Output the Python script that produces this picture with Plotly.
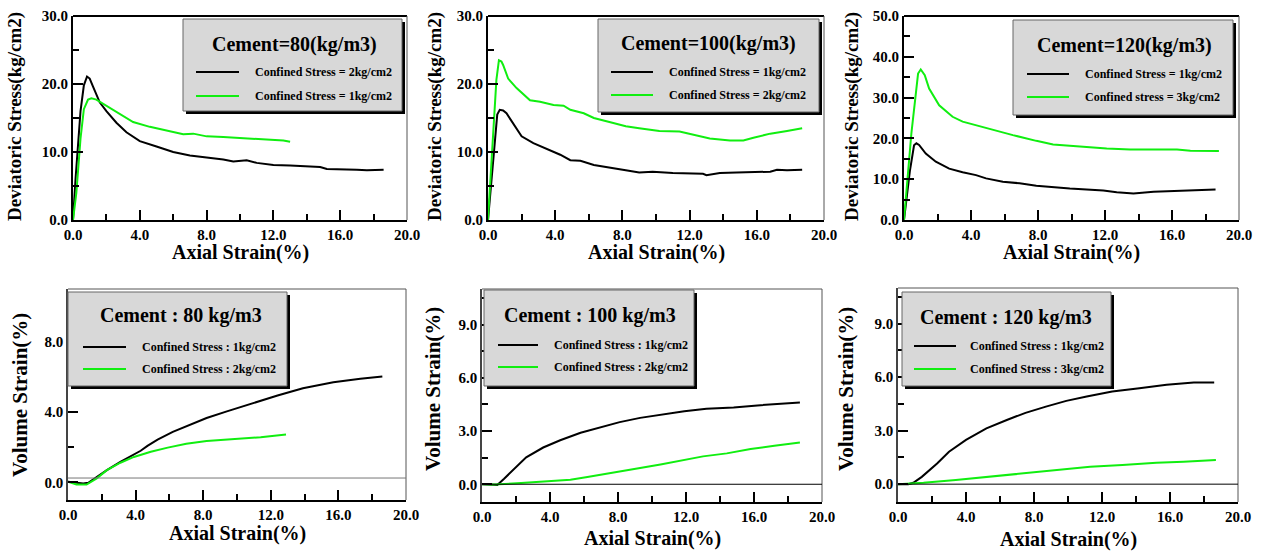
import plotly.graph_objects as go

W, H = 1261, 552

# ---------------- data ----------------
# Deviatoric stress vs axial strain
dev80_black_x = [0, 0.15, 0.45, 0.65, 0.84, 1.0, 1.2, 1.6, 2.0, 2.6, 3.2, 4.0, 5.0, 6.0, 7.0, 8.0, 9.0, 9.6, 10.4, 11.0, 12.0, 13.0, 14.0, 14.8, 15.2, 16.0, 17.0, 17.6, 18.6]
dev80_black_y = [0, 6, 16, 19.8, 21.1, 20.8, 19.6, 17.3, 16.0, 14.3, 12.9, 11.6, 10.8, 10.0, 9.5, 9.2, 8.9, 8.6, 8.8, 8.4, 8.1, 8.0, 7.9, 7.8, 7.5, 7.5, 7.4, 7.3, 7.4]
dev80_green_x = [0, 0.2, 0.45, 0.65, 0.9, 1.1, 1.4, 1.8, 2.6, 3.6, 4.6, 5.6, 6.6, 7.2, 8.0, 9.0, 9.6, 10.6, 11.4, 12.0, 12.6, 13.0]
dev80_green_y = [0, 4, 12, 16.3, 17.7, 17.9, 17.7, 17.1, 15.9, 14.4, 13.7, 13.2, 12.6, 12.7, 12.3, 12.2, 12.1, 12.0, 11.9, 11.8, 11.7, 11.5]

dev100_black_x = [0, 0.3, 0.55, 0.7, 0.9, 1.1, 1.6, 2.0, 2.7, 3.5, 4.3, 4.9, 5.5, 6.3, 7.4, 8.2, 9.0, 9.8, 11.0, 12.0, 12.8, 13.0, 13.8, 14.8, 15.8, 16.8, 17.2, 17.8, 18.7]
dev100_black_y = [0, 9, 15.5, 16.2, 16.1, 15.7, 13.7, 12.3, 11.3, 10.5, 9.6, 8.8, 8.7, 8.1, 7.6, 7.3, 7.0, 7.1, 6.9, 6.9, 6.8, 6.6, 6.9, 7.0, 7.1, 7.1, 7.4, 7.3, 7.4]
dev100_green_x = [0, 0.3, 0.5, 0.65, 0.8, 0.9, 1.2, 1.7, 2.3, 2.5, 3.1, 3.9, 4.5, 4.9, 5.7, 6.3, 7.4, 8.2, 9.0, 10.2, 11.4, 12.4, 13.2, 14.4, 15.2, 15.8, 16.8, 17.8, 18.7]
dev100_green_y = [0, 12, 20.6, 23.5, 23.3, 22.8, 20.8, 19.4, 18.1, 17.6, 17.4, 16.9, 16.8, 16.2, 15.7, 15.0, 14.3, 13.8, 13.5, 13.1, 13.0, 12.5, 12.0, 11.7, 11.7, 12.1, 12.7, 13.1, 13.5]

dev120_black_x = [0, 0.35, 0.6, 0.74, 0.9, 1.3, 1.9, 2.7, 3.5, 4.3, 4.9, 5.9, 6.9, 7.9, 9.9, 11.9, 12.7, 13.7, 14.9, 16.5, 18.6]
dev120_black_y = [0, 12, 18.3, 18.8, 18.4, 16.3, 14.3, 12.6, 11.7, 11.0, 10.2, 9.4, 9.0, 8.4, 7.7, 7.2, 6.8, 6.5, 6.9, 7.2, 7.5]
dev120_green_x = [0, 0.44, 0.84, 1.0, 1.24, 1.5, 2.1, 2.9, 3.5, 4.3, 5.3, 6.5, 7.9, 8.9, 9.9, 10.7, 12.1, 13.5, 15.3, 16.3, 17.1, 18.8]
dev120_green_y = [0, 21.2, 35.9, 36.9, 35.5, 32.2, 28.1, 25.3, 24.1, 23.2, 22.0, 20.8, 19.4, 18.5, 18.2, 17.9, 17.5, 17.3, 17.3, 17.3, 17.0, 16.9]

# Volume strain vs axial strain
vol80_black_x = [0, 0.5, 0.9, 1.2, 1.7, 2.3, 3.1, 3.9, 4.3, 4.7, 5.3, 6.2, 7.2, 8.2, 9.4, 10.8, 12.4, 13.9, 15.7, 17.3, 18.6]
vol80_black_y = [0.04, 0.0, -0.06, -0.02, 0.32, 0.7, 1.17, 1.6, 1.8, 2.08, 2.43, 2.87, 3.25, 3.66, 4.04, 4.47, 4.94, 5.36, 5.7, 5.89, 6.02]
vol80_green_x = [0, 0.5, 1.1, 1.7, 2.3, 3.1, 3.9, 4.9, 5.9, 7.0, 8.2, 9.8, 11.4, 12.9]
vol80_green_y = [0.04, -0.12, -0.12, 0.23, 0.7, 1.12, 1.45, 1.74, 1.98, 2.2, 2.36, 2.45, 2.57, 2.72]

vol100_black_x = [0, 0.9, 1.3, 1.9, 2.6, 3.6, 4.6, 5.8, 7.0, 8.1, 9.3, 10.5, 11.9, 13.2, 14.8, 16.2, 18.7]
vol100_black_y = [0, -0.04, 0.31, 0.87, 1.52, 2.07, 2.48, 2.9, 3.22, 3.5, 3.74, 3.93, 4.11, 4.26, 4.33, 4.44, 4.61]
vol100_green_x = [0, 0.7, 2.3, 3.8, 5.2, 6.2, 7.4, 8.5, 9.3, 10.5, 11.7, 13.0, 14.4, 15.8, 17.2, 18.7]
vol100_green_y = [0, -0.02, 0.07, 0.17, 0.26, 0.41, 0.59, 0.78, 0.91, 1.11, 1.33, 1.57, 1.74, 1.98, 2.17, 2.35]

vol120_black_x = [0, 0.6, 0.9, 1.4, 2.3, 3.0, 4.0, 5.2, 6.4, 7.5, 8.7, 9.9, 11.1, 12.6, 14.2, 15.8, 17.4, 18.6]
vol120_black_y = [0, 0, 0.08, 0.41, 1.16, 1.82, 2.48, 3.13, 3.6, 4.0, 4.35, 4.67, 4.92, 5.2, 5.38, 5.57, 5.7, 5.7]
vol120_green_x = [0, 1.5, 3.4, 5.4, 7.4, 9.3, 11.3, 13.2, 15.2, 16.8, 18.7]
vol120_green_y = [0, 0.08, 0.23, 0.41, 0.6, 0.79, 0.98, 1.07, 1.2, 1.26, 1.35]

legend_titles = ["Cement=80(kg/m3)", "Cement=100(kg/m3)", "Cement=120(kg/m3)",
                 "Cement : 80 kg/m3", "Cement : 100 kg/m3", "Cement : 120 kg/m3"]
black_labels = ["Confined Stress = 2kg/cm2", "Confined Stress = 1kg/cm2", "Confined Stress = 1kg/cm2",
                "Confined Stress : 1kg/cm2", "Confined Stress : 1kg/cm2", "Confined Stress : 1kg/cm2"]
green_labels = ["Confined Stress = 1kg/cm2", "Confined Stress = 2kg/cm2", "Confined stress = 3kg/cm2",
                "Confined Stress : 2kg/cm2", "Confined Stress : 2kg/cm2", "Confined Stress : 3kg/cm2"]
x_title = "Axial Strain(%)"
y_titles = ["Deviatoric Stress(kg/cm2)"] * 3 + ["Volume Strain(%)"] * 3

series = [
    (dev80_black_x, dev80_black_y, dev80_green_x, dev80_green_y),
    (dev100_black_x, dev100_black_y, dev100_green_x, dev100_green_y),
    (dev120_black_x, dev120_black_y, dev120_green_x, dev120_green_y),
    (vol80_black_x, vol80_black_y, vol80_green_x, vol80_green_y),
    (vol100_black_x, vol100_black_y, vol100_green_x, vol100_green_y),
    (vol120_black_x, vol120_black_y, vol120_green_x, vol120_green_y),
]

# ---------------- layout (pixel geometry) ----------------
FONT = "Liberation Serif"
GREEN = "#10ee10"

panels = [
    dict(box=(73, 16, 407, 220), yr=[0, 30], yd=10, ym=5, ref=None, tfs=15,
         leg=(183, 19, 402, 111), tc=(294, 44), l1=(196, 239, 72, 96), tx=253,
         xt=(240, 252), yt=(15, 117)),
    dict(box=(488, 16, 824, 220), yr=[0, 30], yd=10, ym=5, ref=None, tfs=15,
         leg=(598, 19, 819, 112), tc=(708, 43), l1=(611, 653, 72, 95), tx=667,
         xt=(656, 252), yt=(435, 117)),
    dict(box=(904, 16, 1239, 220), yr=[0, 50], yd=10, ym=5, ref=None, tfs=15,
         leg=(1013, 20, 1233, 115), tc=(1124, 45), l1=(1027, 1069, 74, 97), tx=1083,
         xt=(1071, 252), yt=(852, 117)),
    dict(box=(68, 289, 406, 500), yr=[-1, 11], yd=4, ym=2, ref=(0.25, "#777777"), tfs=15,
         leg=(68, 292, 287, 386), tc=(181, 315), l1=(83, 126, 347, 369), tx=140,
         xt=(237, 533), yt=(20, 395)),
    dict(box=(482, 289, 822, 502), yr=[-1, 11], yd=3, ym=1.5, ref=(0.0, "#000000"), tfs=15,
         leg=(484, 290, 694, 386), tc=(590, 315), l1=(498, 538, 345, 367), tx=552,
         xt=(652, 538), yt=(433, 389)),
    dict(box=(898, 288, 1238, 502), yr=[-1, 11], yd=3, ym=1.5, ref=(0.0, "#000000"), tfs=15,
         leg=(902, 292, 1111, 386), tc=(1006, 317), l1=(914, 956, 346, 369), tx=968,
         xt=(1068, 539), yt=(846, 389)),
]


def px(x):
    return x / W


def py(y):
    return 1 - y / H


fig = go.Figure()
shapes = []
annotations = []
layout = dict(width=W, height=H, margin=dict(l=0, r=0, t=0, b=0, pad=0, autoexpand=False),
              template="none", paper_bgcolor="white", plot_bgcolor="white", showlegend=False)

for i, (p, (bx, by, gx, gy)) in enumerate(zip(panels, series)):
    n = "" if i == 0 else str(i + 1)
    xa, ya = "x" + n, "y" + n
    x0, y0, x1, y1 = p["box"]
    top = i < 3
    tickfont = dict(family=FONT, size=p["tfs"], color="black", weight="bold")
    layout["xaxis" + n] = dict(
        domain=[px(x0), px(x1)], range=[0, 20], anchor=ya, dtick=4, tick0=0, automargin=False,
        tickformat=".1f", ticks="inside", ticklen=10, tickwidth=2, tickcolor="black",
        minor=dict(dtick=2, tick0=0, ticks="inside", ticklen=6, tickwidth=2, tickcolor="black"),
        showline=True, linecolor="black", linewidth=2, showgrid=False, zeroline=False,
        tickfont=tickfont, fixedrange=True)
    layout["yaxis" + n] = dict(
        domain=[py(y1), py(y0)], range=p["yr"], anchor=xa, dtick=p["yd"], tick0=0, automargin=False,
        tickformat=".1f", ticks="inside", ticklen=10, tickwidth=2, tickcolor="black",
        minor=dict(dtick=p["ym"], tick0=0, ticks="inside", ticklen=6, tickwidth=2, tickcolor="black"),
        showline=True, linecolor="black" if top else "#444444", linewidth=2 if top else 1.5,
        showgrid=False, zeroline=False, tickfont=tickfont, fixedrange=True)

    fig.add_trace(go.Scatter(x=bx, y=by, mode="lines", name=black_labels[i],
                             line=dict(color="black", width=2), xaxis=xa, yaxis=ya))
    fig.add_trace(go.Scatter(x=gx, y=gy, mode="lines", name=green_labels[i],
                             line=dict(color=GREEN, width=2), xaxis=xa, yaxis=ya))

    # frame top / right
    shapes.append(dict(type="line", xref="paper", yref="paper", x0=px(x0), x1=px(x1),
                       y0=py(y0), y1=py(y0),
                       line=dict(color="black" if top else "#555555", width=2 if top else 1)))
    shapes.append(dict(type="line", xref="paper", yref="paper", x0=px(x1), x1=px(x1),
                       y0=py(y0), y1=py(y1), line=dict(color="#555555", width=1)))
    # reference line in volume plots
    if p["ref"] is not None:
        shapes.append(dict(type="line", xref=xa + " domain", yref=ya, x0=0, x1=1,
                           y0=p["ref"][0], y1=p["ref"][0], line=dict(color=p["ref"][1], width=1)))

    # legend box with shadow
    lx0, ly0, lx1, ly1 = p["leg"]
    shapes.append(dict(type="rect", xref="paper", yref="paper", x0=px(lx0 + 3), x1=px(lx1 + 3),
                       y0=py(ly1 + 3), y1=py(ly0 + 3), fillcolor="black", line=dict(width=0)))
    shapes.append(dict(type="rect", xref="paper", yref="paper", x0=px(lx0), x1=px(lx1),
                       y0=py(ly1), y1=py(ly0), fillcolor="#d8d8d8",
                       line=dict(color="#666666", width=1)))
    sx0, sx1, sy1, sy2 = p["l1"]
    shapes.append(dict(type="line", xref="paper", yref="paper", x0=px(sx0), x1=px(sx1),
                       y0=py(sy1), y1=py(sy1), line=dict(color="black", width=2)))
    shapes.append(dict(type="line", xref="paper", yref="paper", x0=px(sx0), x1=px(sx1),
                       y0=py(sy2), y1=py(sy2), line=dict(color=GREEN, width=2)))
    annotations.append(dict(text=legend_titles[i], xref="paper", yref="paper",
                            x=px(p["tc"][0]), y=py(p["tc"][1]), xanchor="center", yanchor="middle",
                            showarrow=False,
                            font=dict(family=FONT, size=20, color="black", weight="bold")))
    for lab, yy in ((black_labels[i], sy1), (green_labels[i], sy2)):
        annotations.append(dict(text=lab, xref="paper", yref="paper", x=px(p["tx"]), y=py(yy),
                                xanchor="left", yanchor="middle", showarrow=False,
                                font=dict(family=FONT, size=12, color="black", weight="bold")))

    # axis titles
    annotations.append(dict(text=x_title, xref="paper", yref="paper",
                            x=px(p["xt"][0]), y=py(p["xt"][1]), xanchor="center", yanchor="middle",
                            showarrow=False,
                            font=dict(family=FONT, size=20, color="black", weight="bold")))
    annotations.append(dict(text=y_titles[i], xref="paper", yref="paper", textangle=-90,
                            x=px(p["yt"][0]), y=py(p["yt"][1]), xanchor="center", yanchor="middle",
                            showarrow=False,
                            font=dict(family=FONT, size=19 if top else 21, color="black",
                                      weight="bold")))

layout["shapes"] = shapes
layout["annotations"] = annotations
fig.update_layout(**layout)
fig.write_html("out.html", config={"displayModeBar": False},
               post_script="document.body.style.margin='0px';document.body.style.overflow='hidden';")
